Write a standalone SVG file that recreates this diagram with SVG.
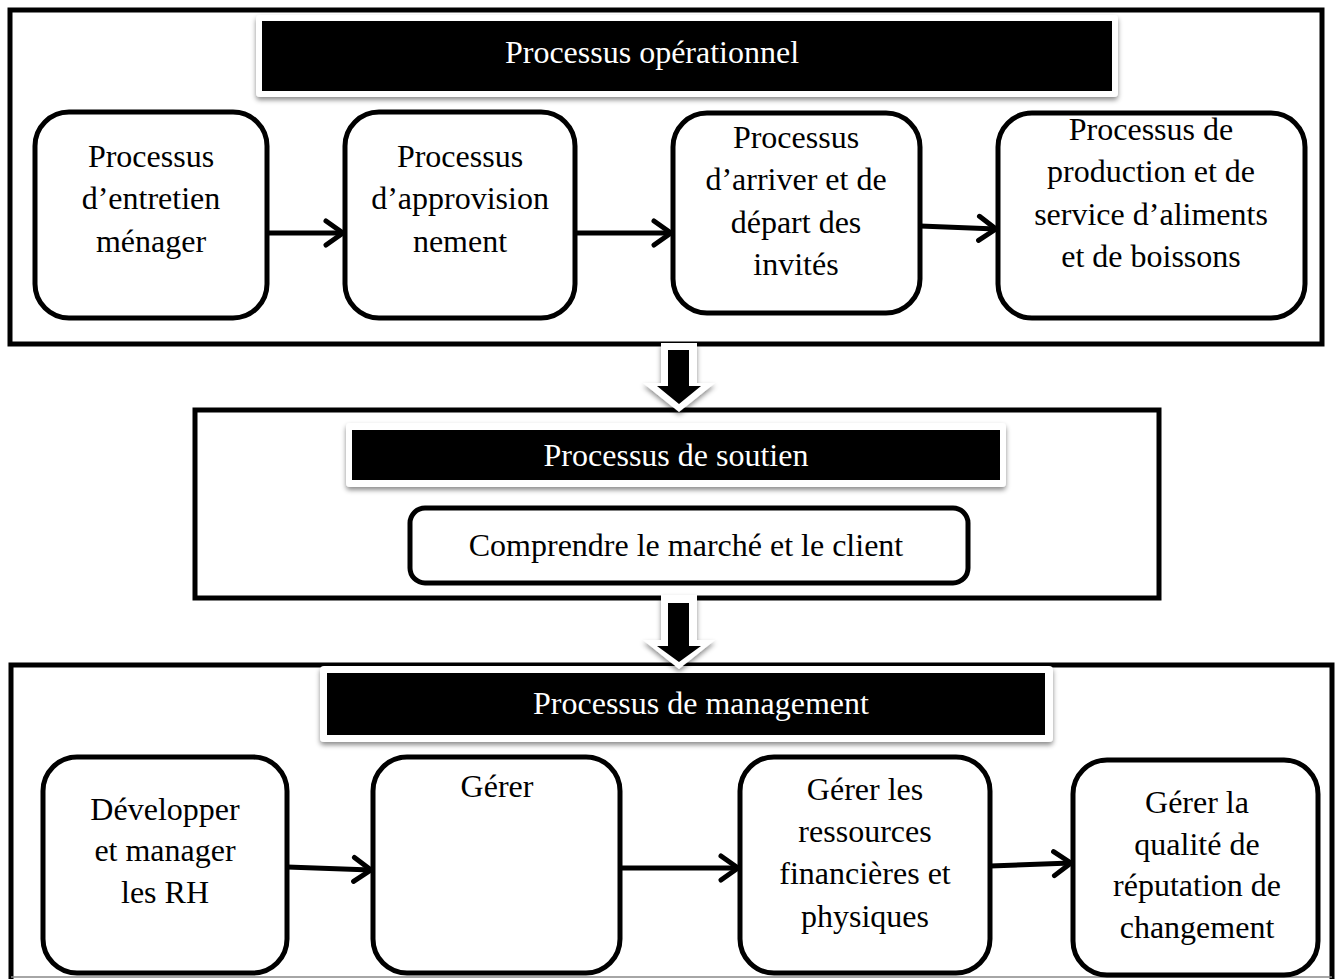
<svg xmlns="http://www.w3.org/2000/svg" width="1341" height="979" viewBox="0 0 1341 979">
<style>
.frame{fill:#fff;stroke:#000;stroke-width:5}
.box{fill:#fff;stroke:#000;stroke-width:5}
.t{font-family:"Liberation Serif","Times New Roman",serif;font-size:32px;fill:#000;text-anchor:middle}
.ht{font-family:"Liberation Serif","Times New Roman",serif;font-size:32px;fill:#fff;text-anchor:middle}
.panel{fill:#fff;filter:url(#sh)}
.bar{fill:#000}
.conn{stroke:#000;stroke-width:5;fill:none;marker-end:url(#chev)}
</style>
<defs>
<filter id="sh" x="-10%" y="-20%" width="120%" height="150%">
<feDropShadow dx="0" dy="3" stdDeviation="2.5" flood-color="#000" flood-opacity="0.45"/>
</filter>
<marker id="chev" markerUnits="userSpaceOnUse" markerWidth="26" markerHeight="32" refX="20" refY="15" orient="auto">
<path d="M3,3 L20,15 L3,27" fill="none" stroke="#000" stroke-width="5" stroke-linecap="round" stroke-linejoin="round"/>
</marker>
</defs>
<rect width="1341" height="979" fill="#fff"/>

<g id="frame-operationnel">
<rect class="frame" x="10" y="10" width="1312" height="334"/>
</g>
<g id="header-operationnel">
<rect class="panel" x="256" y="15" width="862" height="82" rx="4"/>
<rect class="bar" x="262" y="21" width="850" height="70"/>
<text class="ht" x="652" y="63">Processus opérationnel</text>
</g>
<g id="n-entretien">
<rect class="box" x="35" y="112" width="232" height="206" rx="34"/>
<text class="t" x="151" y="167">Processus</text>
<text class="t" x="151" y="209">d’entretien</text>
<text class="t" x="151" y="252">ménager</text>
</g>
<g id="n-approvisionnement">
<rect class="box" x="345" y="112" width="230" height="206" rx="34"/>
<text class="t" x="460" y="167">Processus</text>
<text class="t" x="460" y="209">d’approvision</text>
<text class="t" x="460" y="252">nement</text>
</g>
<g id="n-arriver">
<rect class="box" x="673" y="113" width="247" height="200" rx="34"/>
<text class="t" x="796" y="148">Processus</text>
<text class="t" x="796" y="190">d’arriver et de</text>
<text class="t" x="796" y="233">départ des</text>
<text class="t" x="796" y="275">invités</text>
</g>
<g id="n-production">
<rect class="box" x="998" y="113" width="307" height="205" rx="34"/>
<text class="t" x="1151" y="140">Processus de</text>
<text class="t" x="1151" y="182">production et de</text>
<text class="t" x="1151" y="225">service d’aliments</text>
<text class="t" x="1151" y="267">et de boissons</text>
</g>

<g id="frame-soutien">
<rect class="frame" x="195" y="410" width="964" height="188"/>
</g>
<g id="header-soutien">
<rect class="panel" x="346" y="423" width="660" height="64" rx="4"/>
<rect class="bar" x="352" y="430" width="648" height="50"/>
<text class="ht" x="676" y="466">Processus de soutien</text>
</g>
<g id="n-comprendre">
<rect class="box" x="410" y="508" width="558" height="75" rx="15"/>
<text class="t" x="686" y="556">Comprendre le marché et le client</text>
</g>

<g id="frame-management">
<path d="M11,979 V665 H1332 V979" fill="#fff" stroke="#000" stroke-width="5"/>
<line x1="11" y1="977" x2="1332" y2="977" stroke="#888" stroke-width="1.5"/>
</g>
<g id="header-management">
<rect class="panel" x="320" y="666" width="733" height="76" rx="4"/>
<rect class="bar" x="327" y="673" width="718" height="62"/>
<text class="ht" x="701" y="714">Processus de management</text>
</g>
<g id="n-rh">
<rect class="box" x="43" y="757" width="244" height="216" rx="34"/>
<text class="t" x="165" y="820">Développer</text>
<text class="t" x="165" y="861">et manager</text>
<text class="t" x="165" y="903">les RH</text>
</g>
<g id="n-gerer">
<rect class="box" x="373" y="757" width="247" height="216" rx="34"/>
<text class="t" x="497" y="797">Gérer</text>
</g>
<g id="n-ressources">
<rect class="box" x="740" y="757" width="250" height="216" rx="34"/>
<text class="t" x="865" y="800">Gérer les</text>
<text class="t" x="865" y="842">ressources</text>
<text class="t" x="865" y="884">financières et</text>
<text class="t" x="865" y="927">physiques</text>
</g>
<g id="n-qualite">
<rect class="box" x="1073" y="760" width="245" height="215" rx="34"/>
<text class="t" x="1197" y="813">Gérer la</text>
<text class="t" x="1197" y="855">qualité de</text>
<text class="t" x="1197" y="896">réputation de</text>
<text class="t" x="1197" y="938">changement</text>
</g>

<g id="connectors">
<line class="conn" x1="267" y1="233" x2="343" y2="233"/>
<line class="conn" x1="575" y1="233" x2="671" y2="233"/>
<line class="conn" x1="920" y1="226" x2="996" y2="229"/>
<line class="conn" x1="287" y1="867" x2="371" y2="870"/>
<line class="conn" x1="620" y1="868" x2="738" y2="868"/>
<line class="conn" x1="990" y1="866" x2="1071" y2="863"/>
<g id="down-1">
<polygon points="661,343 697,343 697,383 715,383 679,412 643,383 661,383" fill="#fff" filter="url(#sh)"/>
<polygon points="668,350 689,350 689,386 701,386 679,404 657,386 668,386" fill="#000"/>
</g>
<g id="down-2">
<polygon points="661,595 697,595 697,640 715,640 679,669 643,640 661,640" fill="#fff" filter="url(#sh)"/>
<polygon points="668,603 689,603 689,646 701,646 679,662 657,646 668,646" fill="#000"/>
</g>
</g>
</svg>
